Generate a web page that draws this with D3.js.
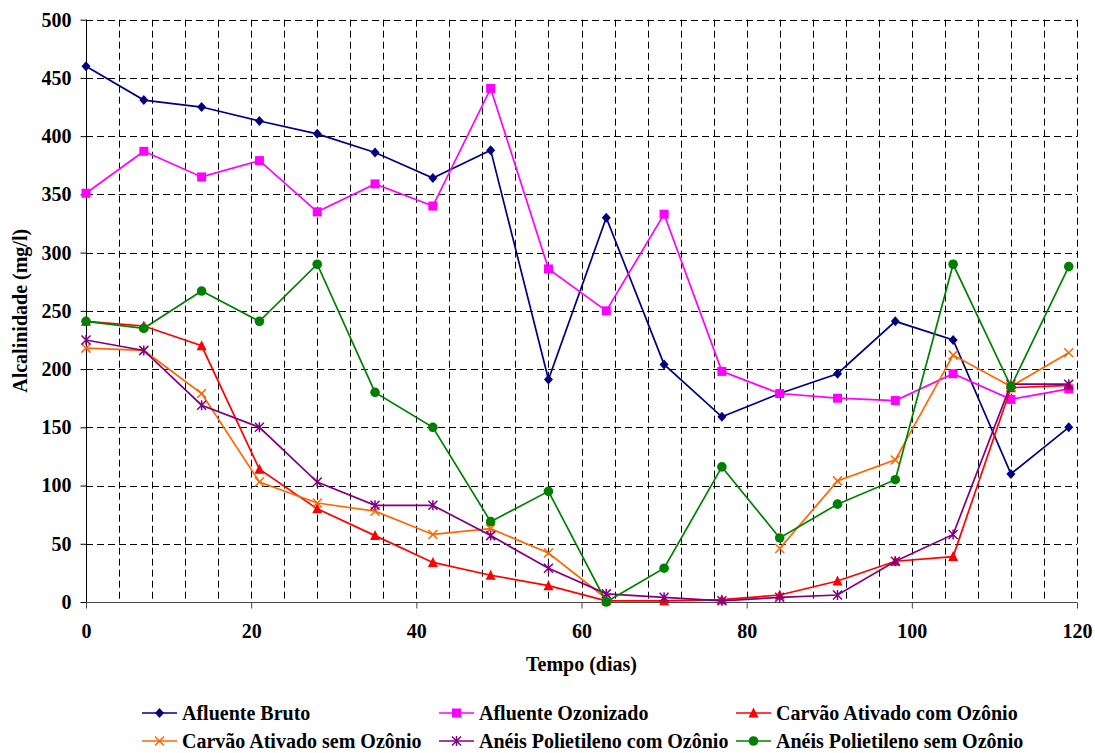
<!DOCTYPE html>
<html>
<head>
<meta charset="utf-8">
<script src="https://cdn.jsdelivr.net/npm/d3@7"></script>
<style>
body { margin: 0; background: #fff; }
</style>
</head>
<body>
<svg id="chart" width="1095" height="753"></svg>
<script>
const days = [0, 7, 14, 21, 28, 35, 42, 49, 56, 63, 70, 77, 84, 91, 98, 105, 112, 119];
const afluenteBruto = [460, 431, 425, 413, 402, 386, 364, 388, 191, 330, 204, 159, 179, 196, 241, 225, 110, 150];
const afluenteOzonizado = [351, 387, 365, 379, 335, 359, 340, 441, 286, 250, 333, 198, 179, 175, 173, 196, 174, 183];
const carvaoComOzonio = [241, 237, 220, 114, 80, 57, 34, 23, 14, 1, 1, 2, 6, 18, 35, 39, 184, 186];
const carvaoSemOzonio = [218, 216, 179, 103, 85, 78, 58, 63, 42, 3, null, null, 46, 104, 122, 212, 185, 214];
const aneisComOzonio = [225, 216, 169, 150, 103, 83, 83, 57, 29, 7, 4, 1, 4, 6, 35, 58, 187, 187];
const aneisSemOzonio = [241, 235, 267, 241, 290, 180, 150, 69, 95, 0, 29, 116, 55, 84, 105, 290, 185, 288];

const seriesNames = ["Afluente Bruto", "Afluente Ozonizado", "Carvão Ativado com Ozônio",
  "Carvão Ativado sem Ozônio", "Anéis Polietileno com Ozônio", "Anéis Polietileno sem Ozônio"];
const seriesValues = [afluenteBruto, afluenteOzonizado, carvaoComOzonio, carvaoSemOzonio, aneisComOzonio, aneisSemOzonio];
const seriesColors = ["#000080", "#FF00FF", "#FF0000", "#FF6600", "#800080", "#008000"];
const seriesMarkers = ["diamond", "square", "triangle", "x", "asterisk", "circle"];

const xTicks = [0, 20, 40, 60, 80, 100, 120];
const yTicks = [0, 50, 100, 150, 200, 250, 300, 350, 400, 450, 500];

const FONT = "'Liberation Serif', 'Times New Roman', serif";
const FS = "20px";

const svg = d3.select("#chart");
const x = d3.scaleLinear().domain([0, 120]).range([86, 1077]);
const y = d3.scaleLinear().domain([0, 500]).range([602, 19.7]);

const grid = svg.append("g");
d3.range(4, 121, 4).forEach(d => {
  grid.append("line")
    .attr("x1", Math.round(x(d)) + 0.5).attr("x2", Math.round(x(d)) + 0.5)
    .attr("y1", y(500)).attr("y2", y(0))
    .attr("stroke", "#000").attr("stroke-width", 1).attr("stroke-dasharray", "7,4");
});
yTicks.filter(v => v > 0).forEach(v => {
  grid.append("line")
    .attr("x1", x(0)).attr("x2", x(120))
    .attr("y1", Math.round(y(v)) + 0.5).attr("y2", Math.round(y(v)) + 0.5)
    .attr("stroke", "#000").attr("stroke-width", 1).attr("stroke-dasharray", "7,4");
});

function styleText(sel) {
  sel.attr("font-family", null).attr("font-size", null)
    .style("font-family", FONT).style("font-weight", "bold").style("font-size", FS).attr("fill", "#000");
  return sel;
}

const yAxis = d3.axisLeft(y).tickValues(yTicks).tickSize(6).tickPadding(9);
const gy = svg.append("g").attr("transform", `translate(${Math.round(x(0)) + 0.5},0)`).call(yAxis);
gy.attr("font-family", null).attr("font-size", null);
gy.selectAll(".tick line").attr("stroke", "#000");
styleText(gy.selectAll("text"));

const xAxis = d3.axisBottom(x).tickValues(xTicks).tickSize(6).tickPadding(15);
const gx = svg.append("g").attr("transform", `translate(0,${Math.round(y(0)) + 0.5})`).call(xAxis);
gx.attr("font-family", null).attr("font-size", null);
gx.selectAll(".tick line").attr("stroke", "#444");
styleText(gx.selectAll("text"));

svg.selectAll(".domain").remove();
svg.append("line").attr("x1", Math.round(x(0)) + 0.5).attr("x2", Math.round(x(0)) + 0.5)
  .attr("y1", y(500)).attr("y2", y(0)).attr("stroke", "#000");
svg.append("line").attr("x1", x(0)).attr("x2", x(120))
  .attr("y1", Math.round(y(0)) + 0.5).attr("y2", Math.round(y(0)) + 0.5).attr("stroke", "#444").attr("stroke-width", 1.2);

styleText(svg.append("text").attr("x", x(60)).attr("y", 671).attr("text-anchor", "middle").text("Tempo (dias)"));
styleText(svg.append("text").attr("transform", `translate(27,${y(250)}) rotate(-90)`).attr("text-anchor", "middle")
  .text("Alcalinidade (mg/l)"));

function drawMarker(g, type, color, cx, cy) {
  const s = 4.5;
  if (type === "diamond") {
    g.append("path").attr("d", `M${cx},${cy - s - 0.5}L${cx + s},${cy}L${cx},${cy + s + 0.5}L${cx - s},${cy}Z`).attr("fill", color);
  } else if (type === "square") {
    g.append("rect").attr("x", cx - s).attr("y", cy - s).attr("width", 2 * s).attr("height", 2 * s).attr("fill", color);
  } else if (type === "triangle") {
    g.append("path").attr("d", `M${cx},${cy - s - 1}L${cx + s + 0.5},${cy + s}L${cx - s - 0.5},${cy + s}Z`).attr("fill", color);
  } else if (type === "circle") {
    g.append("circle").attr("cx", cx).attr("cy", cy).attr("r", s + 0.3).attr("fill", color);
  } else if (type === "x") {
    g.append("path").attr("d", `M${cx - s},${cy - s}L${cx + s},${cy + s}M${cx - s},${cy + s}L${cx + s},${cy - s}`)
      .attr("stroke", color).attr("stroke-width", 1.5).attr("fill", "none");
  } else if (type === "asterisk") {
    g.append("path").attr("d", `M${cx - s},${cy - s}L${cx + s},${cy + s}M${cx - s},${cy + s}L${cx + s},${cy - s}M${cx},${cy - s - 0.5}L${cx},${cy + s + 0.5}`)
      .attr("stroke", color).attr("stroke-width", 1.5).attr("fill", "none");
  }
}

const line = d3.line().defined(d => d.v !== null).x(d => x(d.t)).y(d => y(d.v));
seriesValues.forEach((vals, i) => {
  const pts = days.map((t, j) => ({ t: t, v: vals[j] }));
  const g = svg.append("g");
  g.append("path").datum(pts).attr("d", line).attr("fill", "none")
    .attr("stroke", seriesColors[i]).attr("stroke-width", 1.7);
  pts.filter(p => p.v !== null).forEach(p => drawMarker(g, seriesMarkers[i], seriesColors[i], x(p.t), y(p.v)));
});

const legendPos = [[142, 713], [439, 713], [736, 713], [142, 741], [439, 741], [736, 741]];
seriesNames.forEach((name, i) => {
  const [lx, ly] = legendPos[i];
  const g = svg.append("g");
  g.append("line").attr("x1", lx).attr("x2", lx + 35).attr("y1", ly).attr("y2", ly)
    .attr("stroke", seriesColors[i]).attr("stroke-width", 1.7);
  drawMarker(g, seriesMarkers[i], seriesColors[i], lx + 17.5, ly);
  styleText(g.append("text").attr("x", lx + 40).attr("y", ly).attr("dy", "0.35em").text(name));
});
</script>
</body>
</html>
